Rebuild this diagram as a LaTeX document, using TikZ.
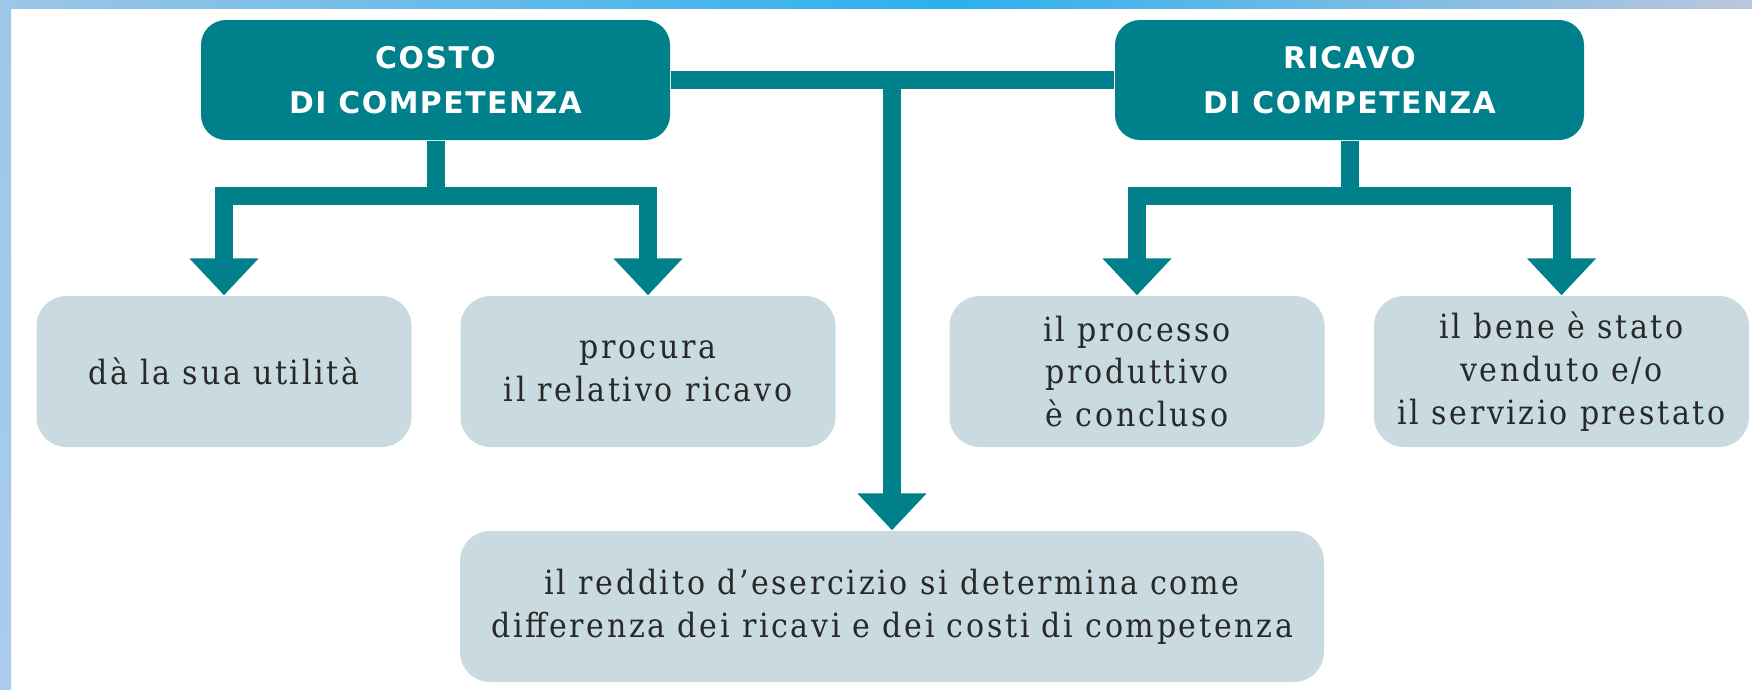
\documentclass[tikz,border=0pt]{standalone}
\usepackage{fontspec}
\setmainfont{DejaVu Serif Condensed}[LetterSpace=8]
\newfontfamily\headfont{DejaVu Sans}[LetterSpace=5]
\usetikzlibrary{arrows.meta, calc}
\definecolor{petrol}{RGB}{0,128,138}
\definecolor{pale}{RGB}{201,219,224}
\definecolor{ink}{RGB}{40,40,40}
\definecolor{skyA}{RGB}{158,198,230}
\definecolor{skyB}{RGB}{44,176,238}
\definecolor{skyC}{RGB}{188,198,222}
\definecolor{skyD}{RGB}{170,204,234}
\begin{document}
\begin{tikzpicture}[
head/.style={fill=petrol, rounded corners=0.25cm, minimum width=4.69cm, minimum height=1.2cm, inner sep=0pt, align=center, text=white, font=\headfont\bfseries\fontsize{8.5}{12.7}\selectfont},
leaf/.style={fill=pale, rounded corners=0.3cm, minimum width=3.75cm, minimum height=1.51cm, inner sep=0pt, align=center, text=ink, font=\fontsize{9.5}{12.2}\selectfont},
bar/.style={draw=petrol, line width=0.18cm},
link/.style={bar, -{Triangle[width=19pt,length=10.5pt]}}]
\useasboundingbox (0,0) rectangle (17.52,-6.89);
\shade[left color=skyA, right color=skyB] (0,0) rectangle (9.5,-0.08);
\shade[left color=skyB, right color=skyC] (9.5,0) rectangle (17.52,-0.08);
\shade[top color=skyA, bottom color=skyD] (0,0) rectangle (0.11,-6.89);
\node[head] (costo) at (4.355,-0.8) {COSTO\\DI COMPETENZA};
\node[head] (ricavo) at (13.495,-0.8) {RICAVO\\DI COMPETENZA};
\node[leaf] (utilita) at (2.24,-3.715) {dà la sua utilità};
\node[leaf] (procura) at (6.48,-3.715) {procura\\il relativo ricavo};
\node[leaf] (processo) at (11.37,-3.715) {il processo\\produttivo\\è concluso};
\node[leaf] (bene) at (15.615,-3.715) {il bene è stato\\venduto e/o\\il servizio prestato};
\node[leaf, minimum width=8.64cm] (reddito) at (8.92,-6.065) {il reddito d’esercizio si determina come\\differenza dei ricavi e dei costi di competenza};
\draw[link] (costo.south) -- ++(0,-0.55) -| (utilita.north);
\draw[link] (costo.south) -- ++(0,-0.55) -| (procura.north);
\draw[link] (ricavo.south) -- ++(0,-0.55) -| (processo.north);
\draw[link] (ricavo.south) -- ++(0,-0.55) -| (bene.north);
\draw[bar] (costo.east) -- (ricavo.west);
\draw[link] (costo.east -| reddito.north) -- (reddito.north);
\end{tikzpicture}
\end{document}
